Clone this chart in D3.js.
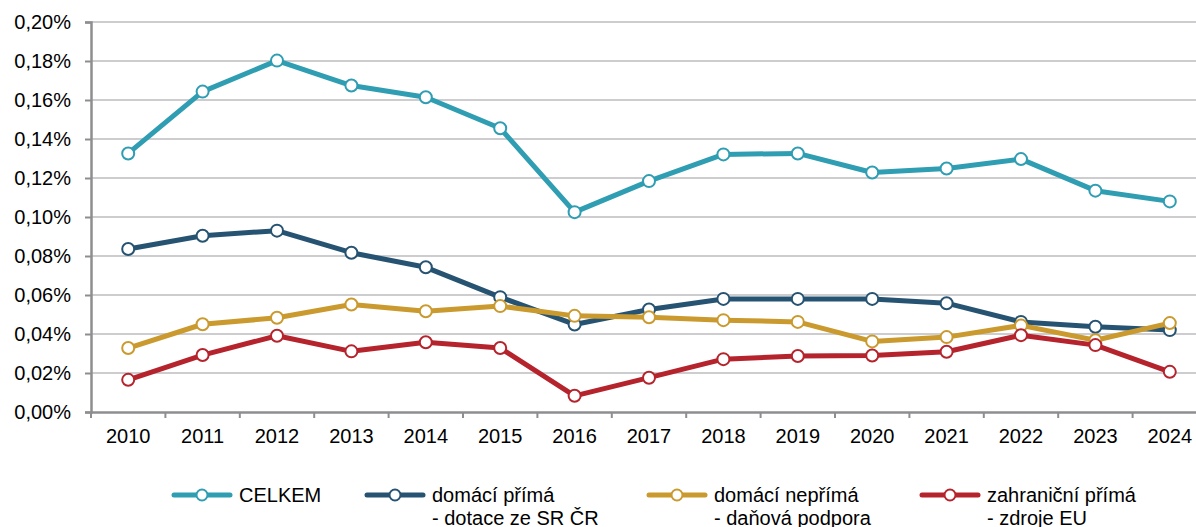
<!DOCTYPE html>
<html>
<head>
<meta charset="utf-8">
<script src="https://cdn.jsdelivr.net/npm/d3@7"></script>
<style>
  html, body { margin: 0; padding: 0; background: #fff; }
  svg { display: block; font-family: "Liberation Sans", Arial, sans-serif; }
</style>
</head>
<body>
<div id="chart"></div>
<script>
// data (values in %)
const years = ['2010', '2011', '2012', '2013', '2014', '2015', '2016', '2017',
    '2018', '2019', '2020', '2021', '2022', '2023', '2024'];

const celkem = [0.1326, 0.1643, 0.1802, 0.1674, 0.1614, 0.1455, 0.1025, 0.1184,
    0.1321, 0.1326, 0.1228, 0.1249, 0.1297, 0.1135, 0.1080];
const domaciPrima = [0.0836, 0.0904, 0.0930, 0.0817, 0.0742, 0.0589, 0.0449, 0.0526,
    0.0580, 0.0580, 0.0580, 0.0558, 0.0462, 0.0437, 0.0420];
const domaciNeprima = [0.0328, 0.0450, 0.0483, 0.0551, 0.0517, 0.0543, 0.0493, 0.0486,
    0.0471, 0.0462, 0.0362, 0.0384, 0.0444, 0.0368, 0.0456];
const zahranicniPrima = [0.0165, 0.0292, 0.0391, 0.0311, 0.0358, 0.0328, 0.0083, 0.0176,
    0.0271, 0.0287, 0.0290, 0.0309, 0.0394, 0.0343, 0.0206];

const yTicks = [0, 0.02, 0.04, 0.06, 0.08, 0.10, 0.12, 0.14, 0.16, 0.18, 0.20];

const seriesNames = [
    ['CELKEM'],
    ['domácí přímá', '- dotace ze SR ČR'],
    ['domácí nepřímá', '- daňová podpora'],
    ['zahraniční přímá', '- zdroje EU']
];
const seriesColors = ['#2f9db2', '#275372', '#ca9a2e', '#b5242d'];
const seriesValues = [celkem, domaciPrima, domaciNeprima, zahranicniPrima];

const W = 1196, H = 527;
const MARGIN = { top: 22, left: 91, bottom: 412 };
const PLOT_RIGHT = 91 + 15 * 74.4;   // plot runs past the right edge of the picture

let svg = d3.select('#chart')
    .append('svg')
    .attr('width', W)
    .attr('height', H);

let x = d3.scaleBand()
    .domain(years)
    .range([MARGIN.left, PLOT_RIGHT]);

let y = d3.scaleLinear()
    .domain([0, 0.20])
    .range([MARGIN.bottom, MARGIN.top]);

// horizontal grid lines
svg.append('g')
    .selectAll('line')
    .data(yTicks.filter((d) => d > 0))
    .join('line')
    .attr('x1', MARGIN.left)
    .attr('x2', PLOT_RIGHT)
    .attr('y1', (d) => y(d))
    .attr('y2', (d) => y(d))
    .attr('stroke', '#bdbdc0')
    .attr('stroke-width', 1.5);

// y axis
let yAxis = svg.append('g')
    .attr('transform', 'translate(' + MARGIN.left + ',0)')
    .call(d3.axisLeft(y)
        .tickValues(yTicks)
        .tickSize(6)
        .tickPadding(14)
        .tickFormat((d) => d3.format('.2f')(d).replace('.', ',') + '%'));

// x axis
let xAxis = svg.append('g')
    .attr('transform', 'translate(0,' + MARGIN.bottom + ')')
    .call(d3.axisBottom(x).tickSize(0).tickPadding(17));

// x ticks sit on the band boundaries
xAxis.selectAll('.boundary')
    .data(years)
    .join('line')
    .attr('class', 'boundary')
    .attr('x1', (d) => x(d))
    .attr('x2', (d) => x(d))
    .attr('y1', 0)
    .attr('y2', 6)
    .attr('stroke', '#8e8e91')
    .attr('stroke-width', 2);

[yAxis, xAxis].forEach(function (axis) {
    axis.select('.domain').attr('stroke', '#8e8e91').attr('stroke-width', 2.5);
    axis.selectAll('.tick line').attr('stroke', '#8e8e91').attr('stroke-width', 2);
    axis.selectAll('text')
        .attr('fill', '#000')
        .style('font-size', '20px')
        .style('font-family', '"Liberation Sans", Arial, sans-serif');
});

// series lines and markers
let line = d3.line()
    .x((d, i) => x(years[i]) + x.bandwidth() / 2)
    .y((d) => y(d));

seriesValues.forEach(function (values, k) {
    let g = svg.append('g');
    g.append('path')
        .datum(values)
        .attr('fill', 'none')
        .attr('stroke', seriesColors[k])
        .attr('stroke-width', 5)
        .attr('stroke-linejoin', 'round')
        .attr('d', line);
    g.selectAll('circle')
        .data(values)
        .join('circle')
        .attr('cx', (d, i) => x(years[i]) + x.bandwidth() / 2)
        .attr('cy', (d) => y(d))
        .attr('r', 6)
        .attr('fill', '#fff')
        .attr('stroke', seriesColors[k])
        .attr('stroke-width', 2);
});

// legend
const legendX = [174, 367, 649, 922];
const legendY = 495;

let legend = svg.append('g')
    .selectAll('g')
    .data(seriesNames)
    .join('g')
    .attr('transform', (d, i) => 'translate(' + legendX[i] + ',' + legendY + ')');

legend.append('line')
    .attr('x1', 0)
    .attr('x2', 56)
    .attr('stroke', (d, i) => seriesColors[i])
    .attr('stroke-width', 5)
    .attr('stroke-linecap', 'round');

legend.append('circle')
    .attr('cx', 28)
    .attr('r', 5.5)
    .attr('fill', '#fff')
    .attr('stroke', (d, i) => seriesColors[i])
    .attr('stroke-width', 2);

legend.append('text')
    .attr('x', 65)
    .attr('y', 7)
    .style('font-size', '20px')
    .attr('fill', '#000')
    .selectAll('tspan')
    .data((d) => d)
    .join('tspan')
    .attr('x', 65)
    .attr('dy', (d, i) => i === 0 ? 0 : 23)
    .text((d) => d);
</script>
</body>
</html>
